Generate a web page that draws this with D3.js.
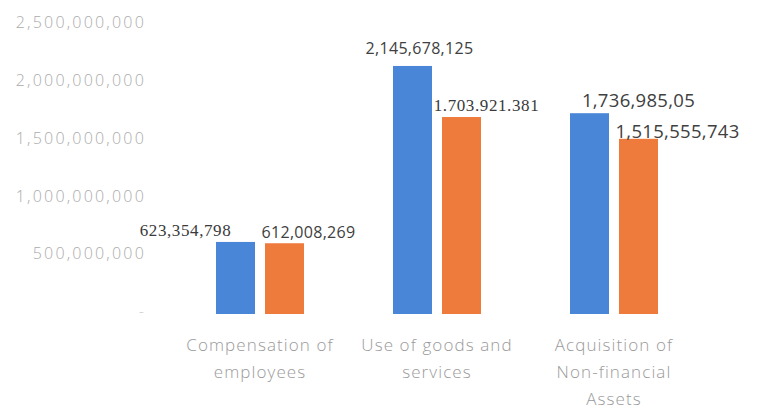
<!DOCTYPE html>
<html><head><meta charset="utf-8">
<script src="https://cdn.jsdelivr.net/npm/d3@7"></script>
<style>html,body{margin:0;padding:0;background:#fff;}svg{display:block;}</style>
</head><body>
<svg id="chart" width="760" height="412"></svg>
<script>
const categories = [["Compensation of","employees"],["Use of goods and","services"],["Acquisition of","Non-financial","Assets"]];
const seriesNames = ["A","B"];
const seriesA = [623354798, 2145678125, 1736985050];
const seriesB = [612008269, 1703921381, 1515555743];
const labelsA = ["623,354,798","2,145,678,125","1,736,985,05"];
const labelsB = ["612,008,269","1.703.921.381","1,515,555,743"];
const tickValues = [0, 500000000, 1000000000, 1500000000, 2000000000, 2500000000];
const tickLabels = ["-", "500,000,000", "1,000,000,000", "1,500,000,000", "2,000,000,000", "2,500,000,000"];
const colors = ["#4a86d8", "#ee7a3b"];
// label layout tweaks (style, not data)
const labelStyleA = [{dx:-50,dy:-10,serif:true,fs:17},{dx:7,dy:-16,serif:false,fs:16},{dx:49,dy:-11,serif:false,fs:18.5}];
const labelStyleB = [{dx:24,dy:-10,serif:false,fs:16},{dx:25,dy:-10,serif:true,fs:17},{dx:39,dy:-6,serif:false,fs:18.5}];

const svg = d3.select("#chart");
const catIdx = categories.map((c,i)=>i);
const x0 = d3.scaleBand().domain(catIdx).range([171.5, 702.5]).paddingInner(89/177).paddingOuter(89/354);
const x1 = d3.scaleBand().domain(seriesNames).range([0, x0.bandwidth()]).paddingInner(10/49);
const y = d3.scaleLinear().domain([0, 2500000000]).range([314, 25]);

// y tick labels
svg.append("g").selectAll("text").data(tickValues).join("text")
  .attr("x", 146).attr("y", (d)=>y(d)-1)
  .attr("text-anchor","end").attr("dominant-baseline","middle")
  .attr("font-family","'Open Sans', sans-serif").attr("font-size",16).attr("font-weight",300)
  .attr("letter-spacing",2.2)
  .attr("fill", (d,i)=> i===0 ? "#cfcfcf" : "#ababab")
  .text((d,i)=>tickLabels[i]);

const data = catIdx.map(i=>({i, vals:[{s:"A",v:seriesA[i],lab:labelsA[i],st:labelStyleA[i],c:colors[0]},{s:"B",v:seriesB[i],lab:labelsB[i],st:labelStyleB[i],c:colors[1]}]}));

const g = svg.append("g").selectAll("g").data(data).join("g")
  .attr("transform", d=>`translate(${x0(d.i)},0)`);

g.selectAll("rect").data(d=>d.vals).join("rect")
  .attr("x", d=>x1(d.s)).attr("width", x1.bandwidth())
  .attr("y", d=>y(d.v)).attr("height", d=>y(0)-y(d.v))
  .attr("fill", d=>d.c);

g.selectAll("text.val").data(d=>d.vals).join("text").attr("class","val")
  .attr("x", d=>x1(d.s)+x1.bandwidth()/2 + d.st.dx)
  .attr("y", d=>y(d.v)+d.st.dy)
  .attr("text-anchor","middle").attr("dominant-baseline","middle")
  .attr("font-family", d=>d.st.serif ? "'Liberation Serif', serif" : "'Open Sans', sans-serif")
  .attr("font-size", d=>d.st.fs)
  .attr("letter-spacing", d=>d.st.serif ? 0.6 : 0.3)
  .attr("fill", d=>d.st.serif ? "#3a3a3a" : "#404040")
  .text(d=>d.lab);

// category labels
g.each(function(d){
  const t = d3.select(this).append("text")
    .attr("text-anchor","middle")
    .attr("font-family","'Open Sans', sans-serif").attr("font-size",17).attr("font-weight",300)
    .attr("letter-spacing",1.1)
    .attr("fill","#9a9a9a");
  categories[d.i].forEach((line,k)=>{
    t.append("tspan").attr("x", x0.bandwidth()/2).attr("y", 351 + k*27).text(line);
  });
});
</script>
</body></html>
